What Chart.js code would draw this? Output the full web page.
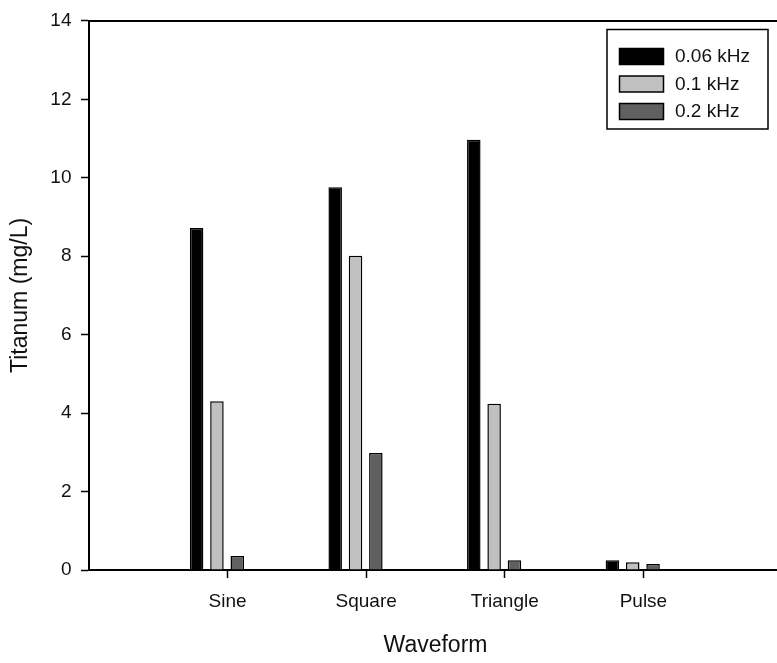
<!DOCTYPE html>
<html>
<head>
<meta charset="utf-8">
<script src="https://cdn.jsdelivr.net/npm/chart.js@4"></script>
<style>
  html, body { margin: 0; padding: 0; background: #fff; overflow: hidden; }
  #wrap { width: 777px; height: 663px; overflow: hidden; }
</style>
</head>
<body>
<div id="wrap"><canvas id="waveChart" width="794" height="663"></canvas></div>
<script>
// data
const waveforms = ["Sine", "Square", "Triangle", "Pulse"];
const freqLabels = ["0.06 kHz", "0.1 kHz", "0.2 kHz"];
const ti006 = [8.72, 9.76, 10.97, 0.25];
const ti01 = [4.30, 8.01, 4.24, 0.20];
const ti02 = [0.36, 2.98, 0.25, 0.15];
const yTicks = [0, 2, 4, 6, 8, 10, 12, 14];

// bars sit a little left of their tick in the original
const groupShift = -0.077;
const fills = ["#000000", "#c0c0c0", "#606060"];

Chart.defaults.font.family = "'Liberation Sans', Arial, sans-serif";
Chart.defaults.color = "#111";

function toPoints(vals) {
  return vals.map((v, i) => ({ x: i + groupShift, y: v }));
}

// boxed legend in the upper right corner
const boxLegend = {
  id: "boxLegend",
  afterDraw(chart) {
    const ctx = chart.ctx;
    ctx.save();
    ctx.strokeStyle = "#000";
    ctx.lineWidth = 1.5;
    ctx.strokeRect(607, 29.5, 161, 99.5);
    ctx.font = "19px 'Liberation Sans', Arial, sans-serif";
    ctx.textBaseline = "middle";
    chart.data.datasets.forEach((ds, i) => {
      const top = 48.5 + i * 27.5;
      ctx.fillStyle = ds.backgroundColor;
      ctx.fillRect(619.5, top, 44, 16);
      ctx.lineWidth = 1.5;
      ctx.strokeRect(619.5, top, 44, 16);
      ctx.fillStyle = "#111";
      ctx.fillText(ds.label, 675, top + 8.5);
    });
    ctx.restore();
  }
};

// top frame line
const topFrame = {
  id: "topFrame",
  afterDraw(chart) {
    const a = chart.chartArea;
    const ctx = chart.ctx;
    ctx.save();
    ctx.strokeStyle = "#000";
    ctx.lineWidth = 2;
    ctx.beginPath();
    ctx.moveTo(a.left - 1, a.top);
    ctx.lineTo(a.right + 2, a.top);
    ctx.stroke();
    ctx.restore();
  }
};

const datasets = [ti006, ti01, ti02].map((vals, i) => ({
  label: freqLabels[i],
  data: toPoints(vals),
  backgroundColor: fills[i],
  borderColor: "#000",
  borderWidth: 1.5,
  categoryPercentage: 0.44,
  barPercentage: 0.665
}));

new Chart(document.getElementById("waveChart"), {
  type: "bar",
  data: { datasets },
  options: {
    responsive: false,
    animation: false,
    layout: { padding: { top: 18, right: 0, bottom: 0, left: 0 } },
    plugins: { legend: { display: false }, tooltip: { enabled: false } },
    scales: {
      x: {
        type: "linear",
        min: -1,
        max: 4,
        offset: false,
        afterFit: s => { s.height = 93; },
        afterBuildTicks: s => { s.ticks = [-1, 0, 1, 2, 3, 4].map(v => ({ value: v })); },
        ticks: {
          callback: v => waveforms[v] ?? "",
          font: { size: 19 },
          padding: 12,
          maxRotation: 0,
          autoSkip: false
        },
        grid: {
          offset: false,
          drawOnChartArea: false,
          tickLength: 8,
          tickWidth: 1.5,
          tickColor: c => (c.tick && c.tick.value === -1 ? "rgba(0,0,0,0)" : "#000")
        },
        border: { color: "#000", width: 2 },
        title: {
          display: true,
          text: "Waveform",
          font: { size: 23 },
          padding: { top: 0, bottom: 3.5 }
        }
      },
      y: {
        min: 0,
        max: 14,
        afterFit: s => { s.width = 89; },
        afterBuildTicks: s => { s.ticks = yTicks.map(v => ({ value: v })); },
        ticks: { font: { size: 19 }, padding: 9.5 },
        grid: {
          drawOnChartArea: false,
          tickLength: 8,
          tickWidth: 1.5,
          tickColor: "#000"
        },
        border: { color: "#000", width: 2 },
        title: {
          display: true,
          text: "Titanum (mg/L)",
          font: { size: 23 },
          padding: { top: 7, bottom: 0 }
        }
      }
    }
  },
  plugins: [boxLegend, topFrame]
});
</script>
</body>
</html>
